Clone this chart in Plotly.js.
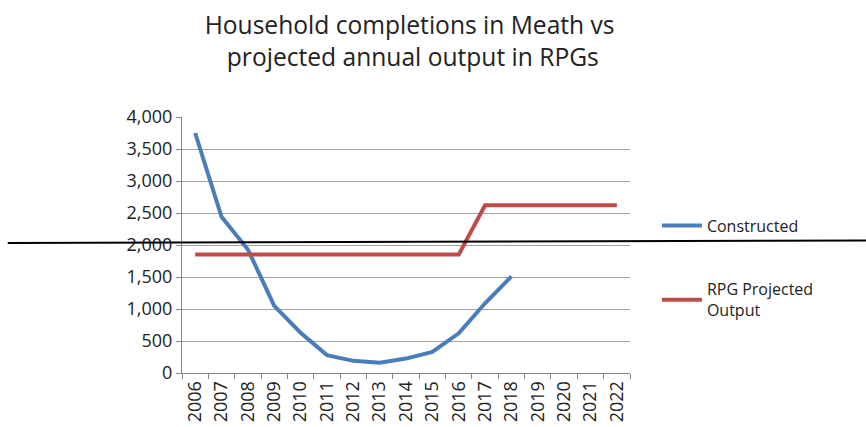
<!DOCTYPE html>
<html>
<head>
<meta charset="utf-8">
<script src="https://cdn.plot.ly/plotly-3.0.1.min.js"></script>
<style>html,body{margin:0;padding:0;background:#fff}#chart{width:866px;height:427px}</style>
</head>
<body>
<div id="chart"></div>
<script>
const years = ['2006','2007','2008','2009','2010','2011','2012','2013','2014','2015','2016','2017','2018','2019','2020','2021','2022'];
const constructedYears = ['2006','2007','2008','2009','2010','2011','2012','2013','2014','2015','2016','2017','2018'];
const constructed = [3750, 2440, 1930, 1050, 630, 280, 190, 160, 225, 330, 620, 1090, 1510];
const rpgProjected = [1850,1850,1850,1850,1850,1850,1850,1850,1850,1850,1850,2620,2620,2620,2620,2620,2620];

const font = 'Open Sans, Noto Sans, sans-serif';

const traces = [
  {x: constructedYears, y: constructed, name: 'Constructed', type: 'scatter', mode: 'lines',
   line: {color: '#4A7EBB', width: 4}, legendgroup: 'a'},
  {x: years, y: rpgProjected, name: 'RPG Projected<br>Output', type: 'scatter', mode: 'lines',
   line: {color: '#BE4B48', width: 4}, legendgroup: 'b'}
];

const layout = {
  width: 866, height: 427,
  margin: {l: 182, r: 236, t: 117, b: 54},
  paper_bgcolor: '#fff', plot_bgcolor: '#fff',
  title: {text: 'Household completions in Meath vs<br> projected annual output in RPGs',
          font: {family: font, size: 24.6, color: '#222'}, x: 0.473, xanchor: 'center',
          yref: 'container', y: 0.921, yanchor: 'middle'},
  xaxis: {type: 'category', categoryarray: years, categoryorder: 'array', range: [-0.5, 16.5],
          tickson: 'boundaries', ticks: 'outside', ticklen: 5, tickcolor: '#868686',
          showline: true, linecolor: '#868686', linewidth: 1, showgrid: false,
          tickangle: -90, tickfont: {family: font, size: 18, color: '#222'}, automargin: false},
  yaxis: {range: [0, 4000], dtick: 500, tickformat: ',d', ticks: 'outside', ticklen: 5, tickcolor: '#868686',
          showline: true, linecolor: '#868686', linewidth: 1, gridcolor: '#a0a0a0', gridwidth: 1,
          zeroline: false, tickfont: {family: font, size: 18, color: '#222'}, automargin: false},
  showlegend: true,
  legend: {x: 1.06, xanchor: 'left', y: 0.41, yanchor: 'middle', traceorder: 'grouped', tracegroupgap: 40,
           font: {family: font, size: 16, color: '#222'}, bgcolor: 'rgba(0,0,0,0)', itemwidth: 40},
  shapes: [{type: 'line', xref: 'paper', yref: 'paper', x0: -0.389, x1: 1.527, y0: 0.508, y1: 0.518,
            line: {color: '#000', width: 2}}]
};

Plotly.newPlot('chart', traces, layout, {displayModeBar: false, staticPlot: true});
</script>
</body>
</html>
